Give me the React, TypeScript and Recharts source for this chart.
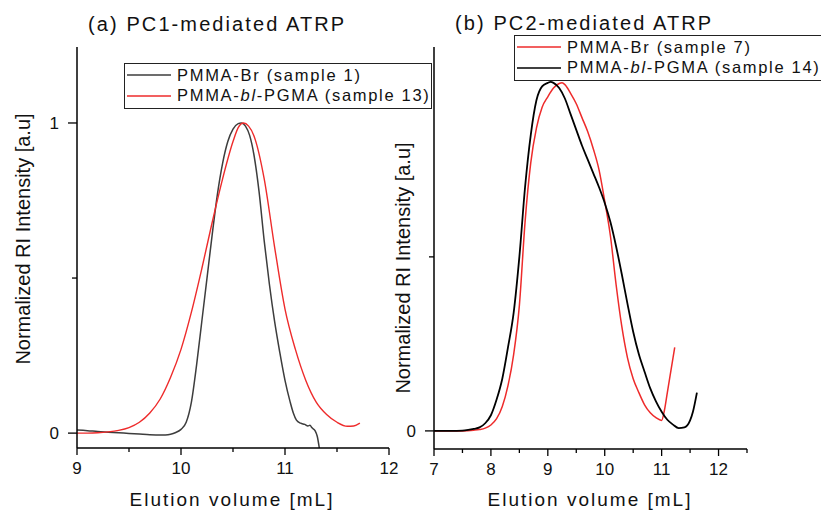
import { LineChart, Line, XAxis, YAxis, Legend } from 'recharts';

// (a) PC1-mediated ATRP
const pc1BrVolume = [9.0, 9.1, 9.2, 9.3, 9.4, 9.5, 9.6, 9.7, 9.8, 9.85, 9.9, 9.95, 10.0, 10.05, 10.1, 10.15, 10.2, 10.25, 10.3, 10.35, 10.4, 10.45, 10.5, 10.55, 10.58, 10.62, 10.66, 10.7, 10.75, 10.8, 10.85, 10.9, 10.95, 11.0, 11.05, 11.08, 11.11, 11.15, 11.19, 11.22, 11.24, 11.26, 11.29, 11.31, 11.33];
const pc1BrIntensity = [0.01, 0.008, 0.005, 0.003, 0.001, -0.001, -0.003, -0.005, -0.006, -0.006, -0.004, 0.002, 0.012, 0.035, 0.1, 0.22, 0.36, 0.5, 0.64, 0.77, 0.87, 0.94, 0.98, 0.998, 1.0, 0.99, 0.96, 0.9, 0.78, 0.62, 0.48, 0.36, 0.26, 0.17, 0.1, 0.065, 0.042, 0.032, 0.028, 0.023, 0.025, 0.017, 0.007, -0.01, -0.048];

const pc1BlVolume = [9.0, 9.1, 9.2, 9.3, 9.4, 9.5, 9.6, 9.7, 9.8, 9.9, 10.0, 10.1, 10.2, 10.3, 10.4, 10.5, 10.55, 10.6, 10.65, 10.7, 10.8, 10.9, 11.0, 11.1, 11.2, 11.3, 11.4, 11.5, 11.6, 11.66, 11.72];
const pc1BlIntensity = [0.0, 0.0, 0.001, 0.004, 0.009, 0.018, 0.035, 0.065, 0.11, 0.18, 0.27, 0.39, 0.53, 0.68, 0.82, 0.94, 0.985, 1.0, 0.99, 0.96, 0.82, 0.6, 0.4, 0.27, 0.17, 0.1, 0.06, 0.035, 0.022, 0.023, 0.032];

// (b) PC2-mediated ATRP
const pc2BrVolume = [7.0, 7.3, 7.5, 7.7, 7.8, 7.9, 8.0, 8.1, 8.2, 8.3, 8.4, 8.5, 8.6, 8.7, 8.8, 8.9, 9.0, 9.1, 9.2, 9.25, 9.3, 9.4, 9.5, 9.6, 9.7, 9.8, 9.9, 10.0, 10.1, 10.2, 10.3, 10.4, 10.5, 10.6, 10.7, 10.8, 10.9, 11.0, 11.05, 11.1, 11.15, 11.23];
const pc2BrIntensity = [0, 0, 0, 0.002, 0.004, 0.008, 0.017, 0.035, 0.07, 0.13, 0.22, 0.36, 0.6, 0.77, 0.87, 0.93, 0.96, 0.985, 0.998, 1.0, 0.995, 0.97, 0.94, 0.9, 0.86, 0.81, 0.75, 0.66, 0.56, 0.42, 0.3, 0.21, 0.15, 0.11, 0.075, 0.052, 0.038, 0.03, 0.06, 0.11, 0.16, 0.24];

const pc2BlVolume = [7.0, 7.3, 7.5, 7.6, 7.7, 7.8, 7.9, 8.0, 8.1, 8.2, 8.3, 8.4, 8.5, 8.6, 8.7, 8.8, 8.9, 9.0, 9.05, 9.1, 9.2, 9.3, 9.4, 9.5, 9.6, 9.7, 9.8, 9.9, 10.0, 10.1, 10.2, 10.3, 10.4, 10.5, 10.6, 10.7, 10.8, 10.9, 11.0, 11.1, 11.2, 11.3, 11.4, 11.5, 11.55, 11.62];
const pc2BlIntensity = [0, 0, 0.001, 0.003, 0.006, 0.01, 0.022, 0.045, 0.09, 0.15, 0.24, 0.34, 0.5, 0.7, 0.85, 0.95, 0.99, 1.0, 1.003, 1.0, 0.985, 0.955, 0.91, 0.865, 0.82, 0.78, 0.74, 0.7, 0.655, 0.6, 0.53, 0.45, 0.365, 0.285, 0.22, 0.17, 0.122, 0.085, 0.055, 0.032, 0.018, 0.008, 0.01, 0.03, 0.055, 0.11];

const leftXTicks = [9, 9.5, 10, 10.5, 11, 11.5, 12];
const rightXTicks = [7, 7.5, 8, 8.5, 9, 9.5, 10, 10.5, 11, 11.5, 12, 12.5];
const leftYTicks = [0, 0.5, 1];
const rightYTicks = [0, 0.5];

const FONT = '"Liberation Sans", Arial, sans-serif';
const RED = '#ee2b2b';
const GRAY = '#3d3d3d';

const zip = (xs: number[], ys: number[]) => xs.map((x, i) => ({ x, y: ys[i] }));

const XTick = ({ x = 0, y = 0, payload }: any) => {
  const v = payload?.value ?? 0;
  const major = Number.isInteger(v);
  return (
    <g>
      <line x1={x} x2={x} y1={y} y2={y + (major ? 7 : 4)} stroke="#000" strokeWidth={1.3} />
      {major && (
        <text x={x} y={y + 26} textAnchor="middle" fontSize={17} fill="#111" fontFamily={FONT}>{v}</text>
      )}
    </g>
  );
};

const YTick = ({ x = 0, y = 0, payload }: any) => {
  const v = payload?.value ?? 0;
  const major = Number.isInteger(v);
  return (
    <g>
      <line x1={x} x2={x - (major ? 9 : 5)} y1={y} y2={y} stroke="#000" strokeWidth={1.3} />
      {major && (
        <text x={x - 18} y={y + 6} textAnchor="end" fontSize={17} fill="#111" fontFamily={FONT}>{v}</text>
      )}
    </g>
  );
};

const seriesName = (name: string) => {
  const parts = name.split('-bl-');
  if (parts.length < 2) return name;
  return (<>{parts[0]}-<i>bl</i>-{parts[1]}</>);
};

const LegendBox = ({ payload, order }: any) => {
  const items = [...(payload || [])].sort((a: any, b: any) => order.indexOf(a.value) - order.indexOf(b.value));
  return (
    <div style={{ border: '1px solid #222', background: '#fff', padding: '1px 0 2px 2px', fontFamily: FONT, fontSize: 16.5, letterSpacing: 1.7, color: '#111', whiteSpace: 'nowrap' }}>
      {items.map((p: any) => (
        <div key={p.value} style={{ display: 'flex', alignItems: 'center', height: 20.5 }}>
          <svg width={44} height={4}><line x1={0} x2={44} y1={2} y2={2} stroke={p.color} strokeWidth={1.6} /></svg>
          <span style={{ marginLeft: 6 }}>{seriesName(p.value)}</span>
        </div>
      ))}
    </div>
  );
};

const axisLine = { stroke: '#000', strokeWidth: 1.5 };

const textBase = { position: 'absolute' as const, fontFamily: FONT, color: '#111', whiteSpace: 'nowrap' as const };

export default function App() {
  const leftNames = ['PMMA-Br (sample 1)', 'PMMA-bl-PGMA (sample 13)'];
  const rightNames = ['PMMA-Br (sample 7)', 'PMMA-bl-PGMA (sample 14)'];
  return (
    <div style={{ position: 'absolute', left: 0, top: 0, width: 821, height: 510, background: '#fff', overflow: 'hidden' }}>
      {/* right panel drawn first so the left legend box sits above it */}
      <div style={{ position: 'absolute', left: 0, top: 0 }}>
        <LineChart width={821} height={510} margin={{ top: 47, right: 74, bottom: 60, left: 433 }}>
          <XAxis type="number" dataKey="x" domain={[7, 12.5]} ticks={rightXTicks} interval={0} allowDataOverflow
            height={1} tickSize={0} tickMargin={0} axisLine={axisLine} tickLine={false} tick={XTick} />
          <YAxis type="number" dataKey="y" domain={[-0.052, 1.103]} ticks={rightYTicks} interval={0} allowDataOverflow
            width={1} tickSize={0} tickMargin={0} axisLine={axisLine} tickLine={false} tick={YTick} />
          <Line data={zip(pc2BrVolume, pc2BrIntensity)} dataKey="y" name={rightNames[0]} type="monotone" stroke={RED} strokeWidth={1.5} dot={false} isAnimationActive={false} />
          <Line data={zip(pc2BlVolume, pc2BlIntensity)} dataKey="y" name={rightNames[1]} type="monotone" stroke="#000" strokeWidth={1.8} dot={false} isAnimationActive={false} />
          <Legend layout="vertical" align="center" verticalAlign="middle" wrapperStyle={{ left: 514, top: 35, width: 'auto' }}
            content={(props: any) => <LegendBox {...props} order={rightNames} />} />
        </LineChart>
      </div>
      <div style={{ position: 'absolute', left: 0, top: 0 }}>
        <LineChart width={821} height={510} margin={{ top: 47, right: 432, bottom: 61, left: 76 }}>
          <XAxis type="number" dataKey="x" domain={[9, 12]} ticks={leftXTicks} interval={0} allowDataOverflow
            height={1} tickSize={0} tickMargin={0} axisLine={axisLine} tickLine={false} tick={XTick} />
          <YAxis type="number" dataKey="y" domain={[-0.048, 1.245]} ticks={leftYTicks} interval={0} allowDataOverflow
            width={1} tickSize={0} tickMargin={0} axisLine={axisLine} tickLine={false} tick={YTick} />
          <Line data={zip(pc1BrVolume, pc1BrIntensity)} dataKey="y" name={leftNames[0]} type="monotone" stroke={GRAY} strokeWidth={1.5} dot={false} isAnimationActive={false} />
          <Line data={zip(pc1BlVolume, pc1BlIntensity)} dataKey="y" name={leftNames[1]} type="monotone" stroke={RED} strokeWidth={1.4} dot={false} isAnimationActive={false} />
          <Legend layout="vertical" align="center" verticalAlign="middle" wrapperStyle={{ left: 124, top: 63, width: 'auto' }}
            content={(props: any) => <LegendBox {...props} order={leftNames} />} />
        </LineChart>
      </div>

      <div style={{ ...textBase, left: 88, top: 14, fontSize: 20, lineHeight: '20px', letterSpacing: 2.1 }}>(a) PC1-mediated ATRP</div>
      <div style={{ ...textBase, left: 455, top: 13, fontSize: 20, lineHeight: '20px', letterSpacing: 2.1 }}>(b) PC2-mediated ATRP</div>

      <div style={{ ...textBase, left: 232, top: 490, fontSize: 19, lineHeight: '19px', letterSpacing: 2, transform: 'translateX(-50%)' }}>Elution volume [mL]</div>
      <div style={{ ...textBase, left: 590, top: 490, fontSize: 19, lineHeight: '19px', letterSpacing: 2, transform: 'translateX(-50%)' }}>Elution volume [mL]</div>

      <div style={{ ...textBase, left: 23, top: 239, fontSize: 20, lineHeight: '20px', transform: 'translate(-50%, -50%) rotate(-90deg)' }}>Normalized RI Intensity [a.u]</div>
      <div style={{ ...textBase, left: 403, top: 268, fontSize: 20, lineHeight: '20px', transform: 'translate(-50%, -50%) rotate(-90deg)' }}>Normalized RI Intensity [a.u]</div>
    </div>
  );
}
